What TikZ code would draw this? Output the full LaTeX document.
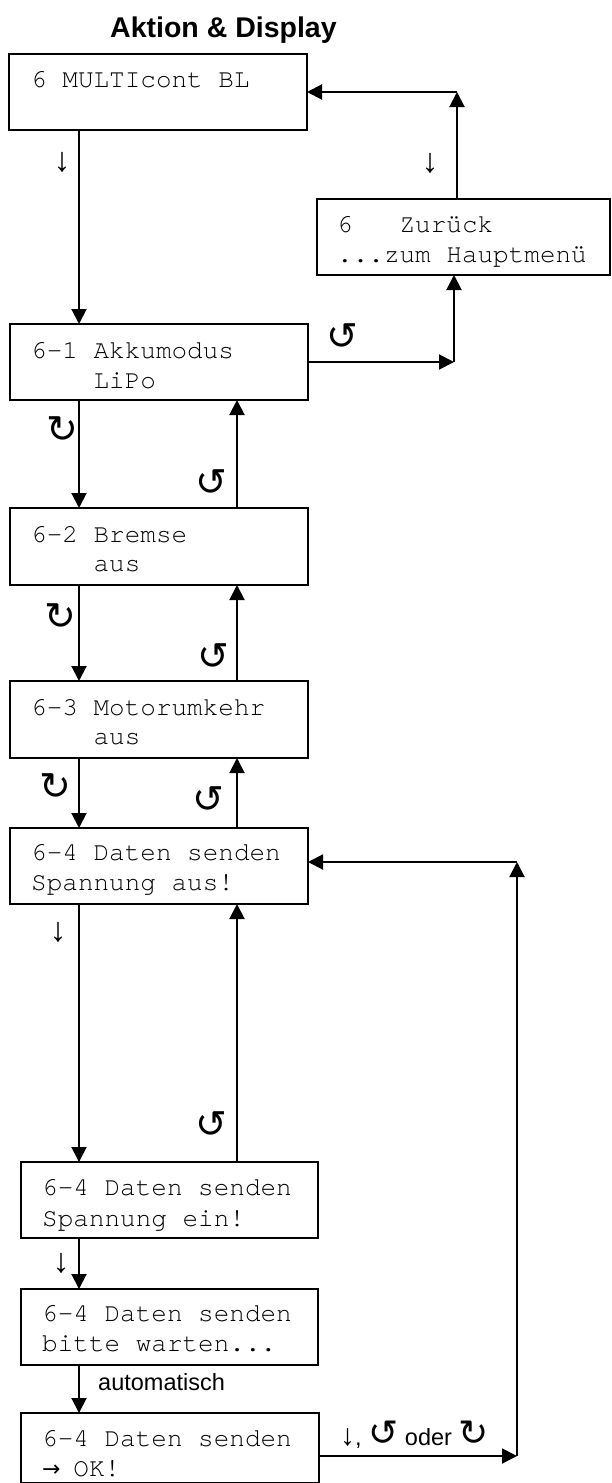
\documentclass[tikz,border=0pt]{standalone}
\usepackage{fontspec}
\setmainfont{Liberation Sans}
\newfontfamily\monof{TeX Gyre Cursor}
\newfontfamily\symf{DejaVu Sans}
\usetikzlibrary{arrows.meta}
\tikzset{
  box/.style={draw,line width=2.2pt,inner sep=0pt,outer sep=0pt,anchor=north west},
  mono/.style={font=\monof\fontsize{26}{30}\selectfont,inner sep=0pt,anchor=base west},
  circ/.style={font=\symf\fontsize{38}{40}\selectfont,inner sep=0pt},
  darr/.style={font=\fontsize{34}{36}\selectfont,inner sep=0pt},
  lab/.style={font=\fontsize{23.5}{26}\selectfont,inner sep=0pt,anchor=base west},
  arr/.style={line width=2pt,-{Triangle[length=15pt,width=15pt]}},
}
\begin{document}
\begin{tikzpicture}[x=1pt,y=-1pt]
\useasboundingbox (0,0) rectangle (611,1483);
% title
\node[font=\bfseries\fontsize{28.5}{30}\selectfont,inner sep=0pt,anchor=base west] (title) at (110,37) {Aktion \& Display};
% boxes
\node[box,minimum width=298pt,minimum height=76pt] (b1)  at (9,54) {};
\node[box,minimum width=293pt,minimum height=76pt] (bz)  at (317,199) {};
\node[box,minimum width=298pt,minimum height=76pt] (b61) at (10,324) {};
\node[box,minimum width=298pt,minimum height=77pt] (b62) at (10,508) {};
\node[box,minimum width=298pt,minimum height=77pt] (b63) at (10,681) {};
\node[box,minimum width=298pt,minimum height=76pt] (b64a) at (10,828) {};
\node[box,minimum width=297pt,minimum height=76pt] (b64b) at (21,1162) {};
\node[box,minimum width=297pt,minimum height=76pt] (b64c) at (21,1289) {};
\node[box,minimum width=298pt,minimum height=70pt] (b64d) at (21,1413) {};
% texts
\node[mono] (t1)  at (31,87) {6 MULTIcont BL};
\node[mono] (tz1) at (337,232) {6\ \ \ Zurück};
\node[mono] (tz2) at (337,262) {...zum Hauptmenü};
\node[mono] (t61a) at (31,358) {6-1 Akkumodus};
\node[mono] (t61b) at (93.4,388) {LiPo};
\node[mono] (t62a) at (31,542) {6-2 Bremse};
\node[mono] (t62b) at (93.4,571) {aus};
\node[mono] (t63a) at (31,715) {6-3 Motorumkehr};
\node[mono] (t63b) at (93.4,744) {aus};
\node[mono] (t4aa) at (31,860) {6-4 Daten senden};
\node[mono] (t4ab) at (31,890) {Spannung aus!};
\node[mono] (t4ba) at (42,1195) {6-4 Daten senden};
\node[mono] (t4bb) at (42,1226) {Spannung ein!};
\node[mono] (t4ca) at (42,1321) {6-4 Daten senden};
\node[mono] (t4cb) at (42,1351) {bitte warten...};
\node[mono] (t4da) at (42,1446) {6-4 Daten senden};
\node[mono] (t4db) at (42,1476) {\rlap{\symf\fontsize{22}{24}\selectfont →}\hspace{31.2pt}OK!};
% columns and corners
\coordinate (cl) at (79,0);
\coordinate (cr) at (237,0);
\coordinate (c1) at (457,92);
\coordinate (c2) at (454,362);
\coordinate (c3) at (517,1456);
\coordinate (c4) at (517,862);
% connectors
\draw[arr] (b1.south -| cl) -- (b61.north -| cl);
\draw[arr] (bz.north -| c1) -- (c1);
\draw[arr] (c1) -- (b1.east |- c1);
\draw[arr] (b61.east |- c2) -- (c2);
\draw[arr] (c2) -- (bz.south -| c2);
\draw[arr] (b61.south -| cl) -- (b62.north -| cl);
\draw[arr] (b62.north -| cr) -- (b61.south -| cr);
\draw[arr] (b62.south -| cl) -- (b63.north -| cl);
\draw[arr] (b63.north -| cr) -- (b62.south -| cr);
\draw[arr] (b63.south -| cl) -- (b64a.north -| cl);
\draw[arr] (b64a.north -| cr) -- (b63.south -| cr);
\draw[arr] (b64a.south -| cl) -- (b64b.north -| cl);
\draw[arr] (b64b.north -| cr) -- (b64a.south -| cr);
\draw[arr] (b64b.south -| cl) -- (b64c.north -| cl);
\draw[arr] (b64c.south -| cl) -- (b64d.north -| cl);
\draw[arr] (b64d.east |- c3) -- (c3);
\draw[arr] (c3) -- (c4);
\draw[arr] (c4) -- (b64a.east |- c4);
% key symbols
\node[darr] (s1) at (62,162) {↓};
\node[darr] (s2) at (430,163) {↓};
\node[circ] (s3) at (342,337) {↺};
\node[circ] (s4) at (62,430) {↻};
\node[circ] (s5) at (211,483) {↺};
\node[circ] (s6) at (60,617) {↻};
\node[circ] (s7) at (213,657) {↺};
\node[circ] (s8) at (55,787) {↻};
\node[circ] (s9) at (208,800) {↺};
\node[darr] (s10) at (58,932) {↓};
\node[circ] (s11) at (211,1125) {↺};
\node[darr] (s12) at (61,1263) {↓};
\node[lab] (auto) at (98,1390) {automatisch};
\node[lab] (keys) at (340,1445) {{\fontsize{30}{30}\selectfont ↓}, {\symf\fontsize{36}{36}\selectfont ↺} oder {\symf\fontsize{36}{36}\selectfont ↻}};
\end{tikzpicture}
\end{document}
